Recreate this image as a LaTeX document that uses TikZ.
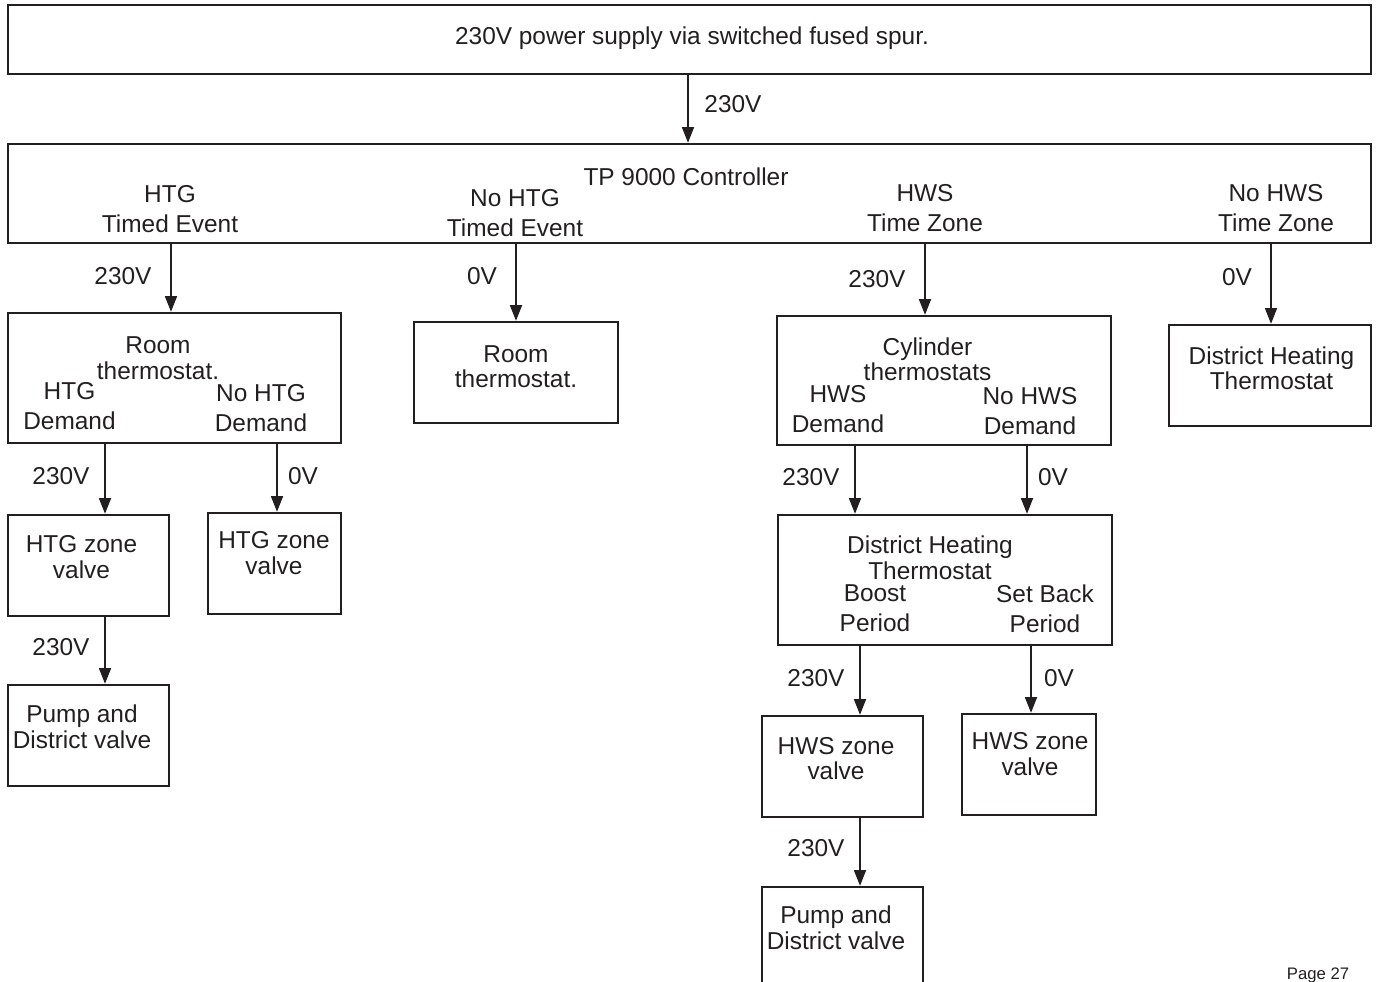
\documentclass[tikz,border=0pt]{standalone}
\usepackage{xcolor}
\usepackage{fontspec}
\setmainfont{Liberation Sans}
\usepackage{tikz}
\usetikzlibrary{positioning}
\usetikzlibrary{arrows.meta}
\definecolor{ink}{RGB}{35, 31, 32}

\begin{document}
\begin{tikzpicture}[x=0.02cm,y=-0.02cm,line width=1.3pt,
	box/.style={rectangle,draw=ink,inner sep=0pt},
	boxsize/.style 2 args={minimum width=#1*0.02cm,minimum height=#2*0.02cm},
	txt/.style={text=ink,inner sep=0pt,align=center,font=\fontsize{13.9pt}{14.5pt}\selectfont},
	wide/.style={txt,font=\fontsize{13.9pt}{17pt}\selectfont},
	arr/.style={draw=ink,line width=1.1pt,-{Triangle[length=9pt,width=6.8pt]}}]
	\useasboundingbox (0,0) rectangle (1378,982);

	% boxes
	\node[box,boxsize={1363}{69}] (supply) at(689.5,39.5) {};
	\node[box,boxsize={1363}{99}] (ctrl) at(689.5,193.5) {};
	\node[box,boxsize={333}{130}] (room1) at(174.5,378) {};
	\node[box,boxsize={204}{101}] (room2) at(516,372.5) {};
	\node[box,boxsize={334}{129}] (cyl) at(944,380.5) {};
	\node[box,boxsize={202}{101}] (dhtr) at(1270,375.5) {};
	\node[box,boxsize={161}{101}] (htg1) at(88.5,565.5) {};
	\node[box,boxsize={133}{101}] (htg2) at(274.5,563.5) {};
	\node[box,boxsize={161}{101}] (pump1) at(88.5,735.5) {};
	\node[box,boxsize={334}{130}] (dhb) at(945,580) {};
	\node[box,boxsize={161}{101}] (hws1) at(842.5,766.5) {};
	\node[box,boxsize={134}{101}] (hws2) at(1029,764.5) {};
	\node[box,boxsize={161}{103}] (pump2) at(842.5,938.5) {};

	% texts
	\node[txt] (supplytxt) at(692,38.5) {230V power supply via switched fused spur.};
	\node[txt] (ctrltxt) at(686,177) {TP 9000 Controller};
	\node[wide] (htgev) at(170,209.5) {HTG\\Timed Event};
	\node[wide] (nohtgev) at(515,213.5) {No HTG\\Timed Event};
	\node[wide] (hwszone) at(925,208.5) {HWS\\Time Zone};
	\node[wide] (nohwszone) at(1276,208.5) {No HWS\\Time Zone};
	\node[txt] (room1txt) at(158,358) {Room\\thermostat.};
	\node[wide] (htgdem) at(69.5,406.5) {HTG\\Demand};
	\node[wide] (nohtgdem) at(261,408) {No HTG\\Demand};
	\node[txt] (room2txt) at(516,366.5) {Room\\thermostat.};
	\node[txt] (cyltxt) at(927.5,359.5) {Cylinder\\thermostats};
	\node[wide] (hwsdem) at(838,409) {HWS\\Demand};
	\node[wide] (nohwsdem) at(1030,411) {No HWS\\Demand};
	\node[txt] (dhtrtxt) at(1271.5,368.5) {District Heating\\Thermostat};
	\node[txt] (htg1txt) at(81.5,557) {HTG zone\\valve};
	\node[txt] (htg2txt) at(274,553) {HTG zone\\valve};
	\node[txt] (pump1txt) at(82,727) {Pump and\\District valve};
	\node[txt] (dhbtxt) at(930,558) {District Heating\\Thermostat};
	\node[wide] (boost) at(875,608.5) {Boost\\Period};
	\node[wide] (setback) at(1045,609) {Set Back\\Period};
	\node[txt] (hws1txt) at(836,758.5) {HWS zone\\valve};
	\node[txt] (hws2txt) at(1030,754) {HWS zone\\valve};
	\node[txt] (pump2txt) at(836,928) {Pump and\\District valve};
	\node[text=ink,inner sep=0pt,font=\fontsize{9.5pt}{11pt}\selectfont] (page) at(1318,975.5) {Page 27};

	% connectors
	\draw[arr] (supply.south -| 688,0) -- (ctrl.north -| 688,0) node[txt] (v1) at(733,104) {230V};
	\draw[arr] (ctrl.south -| 171,0) -- (room1.north -| 171,0) node[txt] (v2) at(123,276) {230V};
	\draw[arr] (ctrl.south -| 516,0) -- (room2.north -| 516,0) node[txt] (v3) at(482,276) {0V};
	\draw[arr] (ctrl.south -| 925,0) -- (cyl.north -| 925,0) node[txt] (v4) at(877,279) {230V};
	\draw[arr] (ctrl.south -| 1271,0) -- (dhtr.north -| 1271,0) node[txt] (v5) at(1237,277) {0V};
	\draw[arr] (room1.south -| 105,0) -- (htg1.north -| 105,0) node[txt] (v6) at(61,476) {230V};
	\draw[arr] (room1.south -| 277,0) -- (htg2.north -| 277,0) node[txt] (v7) at(303,476) {0V};
	\draw[arr] (htg1.south -| 105,0) -- (pump1.north -| 105,0) node[txt] (v8) at(61,647) {230V};
	\draw[arr] (cyl.south -| 855,0) -- (dhb.north -| 855,0) node[txt] (v9) at(811,477) {230V};
	\draw[arr] (cyl.south -| 1027,0) -- (dhb.north -| 1027,0) node[txt] (v10) at(1053,477) {0V};
	\draw[arr] (dhb.south -| 860,0) -- (hws1.north -| 860,0) node[txt] (v11) at(816,678) {230V};
	\draw[arr] (dhb.south -| 1031,0) -- (hws2.north -| 1031,0) node[txt] (v12) at(1059,678) {0V};
	\draw[arr] (hws1.south -| 860,0) -- (pump2.north -| 860,0) node[txt] (v13) at(816,848) {230V};
\end{tikzpicture}
\end{document}
